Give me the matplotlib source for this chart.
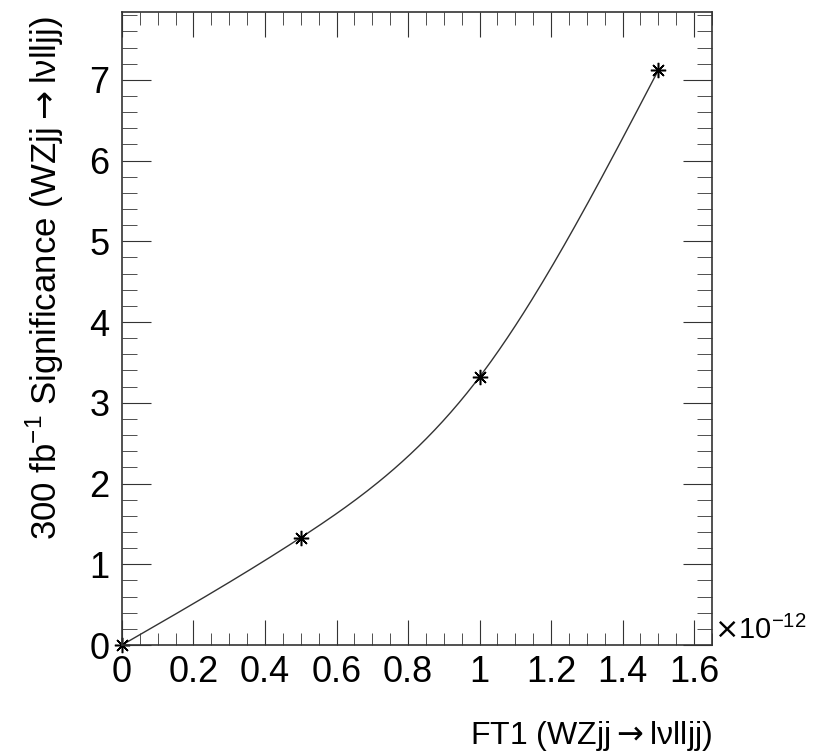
import numpy as np
import matplotlib.pyplot as plt
from matplotlib.ticker import MultipleLocator, FuncFormatter

plt.rcParams['font.family'] = ['Liberation Sans', 'DejaVu Sans']

ft1 = [0.0, 0.5e-12, 1.0e-12, 1.5e-12]
signif = [0.0, 1.33, 3.32, 7.12]

def spline(x, y, n=200):
    # natural cubic spline through the points, like ROOT's "C" option
    x = np.asarray(x); y = np.asarray(y)
    h = np.diff(x)
    m = len(x)
    A = np.zeros((m, m)); b = np.zeros(m)
    A[0, 0] = A[-1, -1] = 1
    for i in range(1, m - 1):
        A[i, i - 1] = h[i - 1]; A[i, i] = 2 * (h[i - 1] + h[i]); A[i, i + 1] = h[i]
        b[i] = 6 * ((y[i + 1] - y[i]) / h[i] - (y[i] - y[i - 1]) / h[i - 1])
    M = np.linalg.solve(A, b)
    xs = np.linspace(x[0], x[-1], n)
    k = np.clip(np.searchsorted(x, xs) - 1, 0, m - 2)
    t0 = x[k + 1] - xs; t1 = xs - x[k]; hk = h[k]
    ys = (M[k] * t0**3 + M[k + 1] * t1**3) / (6 * hk) \
        + (y[k] / hk - M[k] * hk / 6) * t0 + (y[k + 1] / hk - M[k + 1] * hk / 6) * t1
    return xs, ys

fig = plt.figure(figsize=(8.18, 7.53), dpi=100)
ax = fig.add_axes([0.1491, 0.1434, 0.8704 - 0.1491, 0.9841 - 0.1434])

xs, ys = spline(ft1, signif)
ax.plot(xs, ys, color='#333333', lw=1.0)
ax.plot(ft1, signif, ls='none', marker=(8, 2, 0), ms=11, mew=1.1, color='black', clip_on=False)

ax.set_xlim(0, 1.65e-12)
ax.set_ylim(0, 7.84)

ax.xaxis.set_major_locator(MultipleLocator(0.2e-12))
ax.xaxis.set_minor_locator(MultipleLocator(0.05e-12))
ax.yaxis.set_major_locator(MultipleLocator(1))
ax.yaxis.set_minor_locator(MultipleLocator(0.2))
ax.xaxis.set_major_formatter(FuncFormatter(lambda v, p: ('%g' % round(v * 1e12, 3))))
ax.yaxis.set_major_formatter(FuncFormatter(lambda v, p: '%g' % v))

ax.tick_params(which='both', direction='in', top=True, right=True, labelsize=26, color='#333333')
ax.tick_params(axis='x', which='major', length=18, pad=7)
ax.tick_params(axis='x', which='minor', length=9)
ax.tick_params(axis='y', which='major', length=21, pad=9)
ax.tick_params(axis='y', which='minor', length=11)
for s in ax.spines.values():
    s.set_color('#333333')
    s.set_linewidth(1.2)

fig.text(0.873, 0.163, r'$\times$10$^{\mathregular{-12}}$', fontsize=21, ha='left', va='center')

arrow = r'$\rightarrow$'
fig.text(0.8704, 0.022, 'FT1 (WZjj' + arrow + 'l\u03bdlljj)', fontsize=23, ha='right', va='center')
fig.text(0.055, 0.978, '300 fb$^{\\mathregular{-1}}$ Significance (WZjj' + arrow + 'l\u03bdlljj)',
         fontsize=25, ha='center', va='top', rotation=90)

fig.savefig('out.png', dpi=100)
